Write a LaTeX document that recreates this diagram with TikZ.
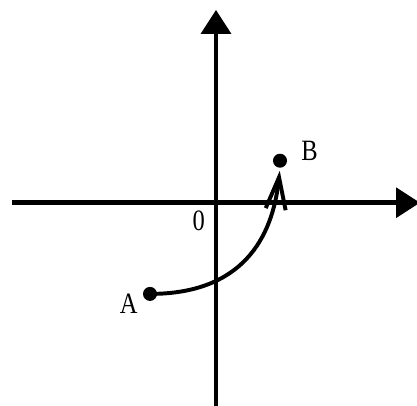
\documentclass[tikz,border=0pt]{standalone}
\usepackage{fontspec}
\setmainfont{Liberation Serif}
\newfontfamily\lblfont[FakeStretch=0.83]{Liberation Serif}
\usetikzlibrary{arrows.meta}

\begin{document}
\begin{tikzpicture}[
  >=Latex,
  axis/.style={-{Triangle[length=6mm,width=7.4mm]},line width=3.3pt},
  move/.style={-{Straight Barb[length=8mm,width=5mm]},
    line width=2.8pt,shorten >=2pt},
  dot/.style={circle,fill,inner sep=0pt,minimum size=3.5mm},
  lbl/.style={font=\lblfont\fontsize{21}{24}\selectfont,inner sep=0pt}
]
\useasboundingbox (-5.4,-5.0575) rectangle (5.025,5.0675);
\coordinate (xstart) at (-5.1,0);
\coordinate (xend) at (5.1,0);
\coordinate (ystart) at (0,-5.2);
\coordinate (yend) at (0,4.82);
\node[dot] (A) at (-1.65,-2.28) {};
\node[dot] (B) at (1.6,1.05) {};
\node[lbl] (labelA) at (-2.18,-2.53) {A};
\node[lbl] (labelB) at (2.34,1.305) {B};
\node[lbl] (zero) at (-0.43,-0.46) {0};
\draw[move] (A.center) to[out=0,in=-96,out looseness=1.3] (B.south);
\draw[axis] (xstart) -- (xend);
\draw[axis] (ystart) -- (yend);
\end{tikzpicture}
\end{document}
